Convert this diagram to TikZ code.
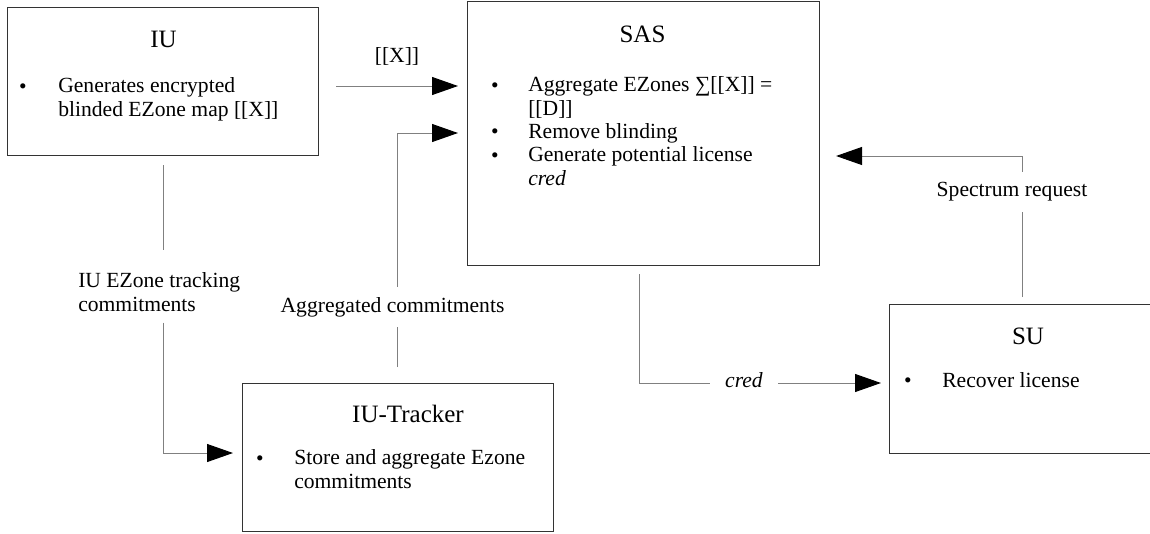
\documentclass[tikz,border=0pt]{standalone}
\usepackage{fontspec}
\setmainfont{Liberation Serif}
\usetikzlibrary{arrows.meta}
\begin{document}
\begin{tikzpicture}[x=0.75pt,y=-0.75pt,
  box/.style={draw=black!80, line width=0.8pt, anchor=north west, inner sep=0pt},
  title/.style={font=\fontsize{18.75pt}{22pt}\selectfont, anchor=base, inner sep=0pt},
  % multi-line body text: the base anchor sits on the last line
  body/.style={font=\fontsize{16.2pt}{17.5pt}\selectfont, align=left, anchor=base west, inner sep=0pt},
  bullet/.style={font=\fontsize{16.2pt}{17.5pt}\selectfont, anchor=base, inner sep=0pt},
  lbl/.style={font=\fontsize{16.2pt}{17.5pt}\selectfont, inner sep=0pt},
  conn/.style={draw=black!50, line width=0.75pt},
  arr/.style={conn, -{Triangle[length=19.5pt,width=13.5pt,color=black]}},
]
\useasboundingbox (0,0) rectangle (1150,533);

% ---- boxes ----
\node[box, minimum width=233.25pt, minimum height=111pt] (iu) at (7,7) {};
\node[box, minimum width=264pt, minimum height=198pt] (sas) at (467,1) {};
\node[box, minimum width=233.25pt, minimum height=111pt] (tracker) at (242,383) {};
\node[box, minimum width=233.25pt, minimum height=111.75pt] (su) at (889,304) {};

% ---- IU ----
\node[title] (iuT) at (163.5,47) {IU};
\node[bullet] (iuB) at (23,93) {•};
\node[body] (iuX) at (58,116.3) {Generates encrypted\\blinded EZone map [[X]]};

% ---- SAS ----
\node[title] (sasT) at (642.5,42) {SAS};
\node[bullet] (sasB1) at (495,92) {•};
\node[body] (sasX1) at (528,115.3) {Aggregate EZones ∑[[X]] =\\{}[[D]]};
\node[bullet] (sasB2) at (495,138.6) {•};
\node[body] (sasX2) at (528,138.6) {Remove blinding};
\node[bullet] (sasB3) at (495,162) {•};
\node[body] (sasX3) at (528,185.3) {Generate potential license\\\textit{cred}};

% ---- IU-Tracker ----
\node[title] (trT) at (408,422) {IU-Tracker};
\node[bullet] (trB) at (260,465) {•};
\node[body] (trX) at (294,488.3) {Store and aggregate Ezone\\commitments};

% ---- SU ----
\node[title] (suT) at (1028,344) {SU};
\node[bullet] (suB) at (908,387) {•};
\node[body] (suX) at (942,387) {Recover license};

% ---- connector labels ----
\node[lbl, anchor=west, align=left] (ez) at (78,292) {IU EZone tracking\\commitments};
\node[lbl, anchor=base] (xlab) at (397,62) {[[X]]};
\node[lbl, minimum height=30pt] (agg) at (392.5,307) {Aggregated commitments};
\node[lbl, minimum height=30pt] (spec) at (1012,192) {Spectrum request};
\node[lbl, inner xsep=11.25pt, anchor=base] (cred) at (744,387) {\textit{cred}};

% ---- routing points ----
\coordinate (yA) at (0,86);
\coordinate (b) at (397,133);
\coordinate (c) at (163,453);
\coordinate (e) at (639,383);
\coordinate (g) at (1022,156);

% ---- connectors ----
% IU -> SAS
\draw[arr, shorten <=12.75pt, shorten >=6.75pt] (iu.east |- yA) -- (sas.west |- yA);
% IU -> IU-Tracker
\draw[conn, shorten <=6.75pt, shorten >=16.5pt] (iu.south -| c) -- (c |- ez.north);
\draw[arr, shorten <=8.25pt, shorten >=6.75pt] (c |- ez.south) -- (c) -- (tracker.west |- c);
% IU-Tracker -> SAS
\draw[conn, shorten <=12pt] (tracker.north -| b) -- (b |- agg.south);
\draw[arr, shorten >=6.75pt] (b |- agg.north) -- (b) -- (sas.west |- b);
% SAS -> SU
\draw[conn, shorten <=6pt] (sas.south -| e) -- (e) -- (cred.west |- e);
\draw[arr, shorten >=6pt] (cred.east |- e) -- (su.west |- e);
% SU -> SAS
\draw[conn, shorten <=5.25pt] (su.north -| g) -- (g |- spec.south);
\draw[arr, shorten >=12pt] (g |- spec.north) -- (g) -- (sas.east |- g);
\end{tikzpicture}
\end{document}
